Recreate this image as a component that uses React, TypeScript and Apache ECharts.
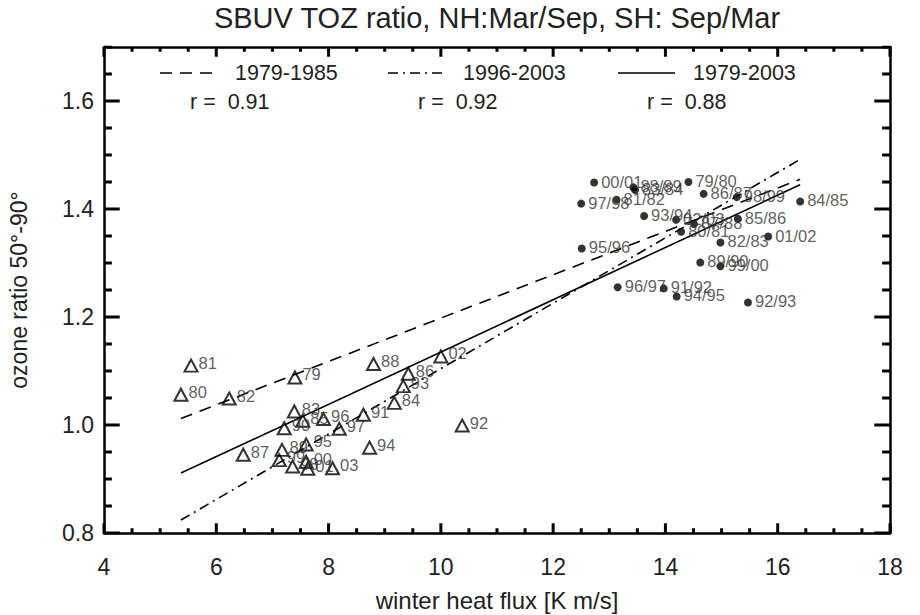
import React, { useEffect, useRef } from "react";
import * as echarts from "echarts";

// ---- data ----
const nhLabels = ["00/01","88/89","83/84","79/80","97/98","81/82","86/87","93/94","02/03","87/88","80/81","95/96","82/83","89/90","99/00","96/97","91/92","94/95","92/93","98/99","85/86","01/02","84/85"];
const nhX = [12.73,13.43,13.46,14.41,12.50,13.13,14.68,13.62,14.19,14.51,14.28,12.51,14.98,14.62,14.98,13.15,13.97,14.20,15.47,15.27,15.29,15.83,16.40];
const nhY = [1.449,1.440,1.435,1.450,1.410,1.417,1.428,1.387,1.380,1.372,1.358,1.327,1.338,1.301,1.294,1.255,1.253,1.238,1.227,1.422,1.382,1.349,1.414];

const shLabels = ["79","80","81","82","83","84","85","86","87","88","89","90","91","92","93","94","95","96","97","98","99","00","01","02","03"];
const shX = [7.40,5.37,5.55,6.23,7.39,9.17,7.54,9.42,6.48,8.80,7.17,7.21,8.62,10.38,9.33,8.73,7.60,7.91,8.19,7.36,7.12,7.60,7.63,10.00,8.07];
const shY = [1.088,1.056,1.110,1.049,1.025,1.041,1.008,1.095,0.945,1.113,0.954,0.994,1.019,0.999,1.072,0.958,0.964,1.011,0.993,0.923,0.935,0.932,0.919,1.127,0.920];

const fit7985 = [[5.37, 1.012], [16.40, 1.455]];
const fit9603 = [[5.37, 0.824], [16.40, 1.492]];
const fit7903 = [[5.37, 0.911], [16.40, 1.445]];

const legendNames = ["1979-1985", "1996-2003", "1979-2003"];
const legendR = ["r =  0.91", "r =  0.92", "r =  0.88"];

// axis extents and ticks
const X_MIN = 4, X_MAX = 18, X_STEP = 2, X_MINOR = 0.5;
const Y_MIN = 0.8, Y_MAX = 1.7, Y_STEP = 0.2, Y_MINOR = 0.05;
const TICKLEN = 0.02; // fraction of the plot, as in IDL

const titleText = "SBUV TOZ ratio, NH:Mar/Sep, SH: Sep/Mar";
const xTitle = "winter heat flux [K m/s]";
const yTitle = "ozone ratio 50°-90°";

const FONT = '"Liberation Sans", Arial, Helvetica, sans-serif';
const TXT = "#222";

function tickValues(min: number, max: number, step: number, major: number) {
  const out: { v: number; major: boolean }[] = [];
  const n = Math.round((max - min) / step);
  for (let i = 0; i <= n; i++) {
    const v = +(min + i * step).toFixed(4);
    out.push({ v, major: Math.abs(v / major - Math.round(v / major)) < 1e-6 });
  }
  return out;
}

export default function App() {
  const ref = useRef<HTMLDivElement>(null);
  useEffect(() => {
    if (!ref.current) return;
    const chart = echarts.init(ref.current, undefined, { renderer: "svg" });

    const frameLine = { show: true, onZero: false, lineStyle: { color: "#000", width: 2.5 } };
    const xAx = (pos: string, show: boolean) => ({
      type: "value",
      position: pos,
      min: X_MIN,
      max: X_MAX,
      interval: X_STEP,
      axisLine: frameLine,
      axisTick: { show: false },
      splitLine: { show: false },
      axisLabel: { show, fontSize: 23, color: TXT, fontFamily: FONT, margin: 22 },
    });
    const yAx = (pos: string, show: boolean) => ({
      type: "value",
      position: pos,
      min: Y_MIN,
      max: Y_MAX,
      interval: Y_STEP,
      axisLine: frameLine,
      axisTick: { show: false },
      splitLine: { show: false },
      axisLabel: {
        show,
        fontSize: 23,
        color: TXT,
        fontFamily: FONT,
        margin: 10,
        showMaxLabel: false,
        formatter: (v: number) => (Math.abs(v - Y_MAX) < 1e-6 ? "" : v.toFixed(1)),
      },
    });

    const lineSeries = (data: any[], type: any, width = 1.6) => ({
      type: "line",
      data,
      xAxisIndex: 0,
      yAxisIndex: 0,
      symbol: "none",
      silent: true,
      lineStyle: { color: "#000", width, type },
      z: 2,
    });

    const labelCfg = {
      show: true,
      position: "right",
      formatter: "{b}",
      fontSize: 16.5,
      color: "#333",
      fontFamily: FONT,
    };

    const legendCols = [
      { x1: 160, x2: 215, tx: 235, rx: 190, dash: [12, 8] },
      { x1: 388, x2: 443, tx: 463, rx: 418, dash: [10, 5, 2, 5] },
      { x1: 618, x2: 675, tx: 693, rx: 647, dash: null },
    ];
    const graphics: any[] = [
      {
        type: "text",
        x: 497,
        y: 18,
        style: { text: titleText, fontSize: 29, fontFamily: FONT, fill: TXT, align: "center", verticalAlign: "middle" },
      },
      {
        type: "text",
        x: 497,
        y: 600,
        style: { text: xTitle, fontSize: 24, fontFamily: FONT, fill: TXT, align: "center", verticalAlign: "middle" },
      },
      {
        type: "text",
        x: 19,
        y: 290,
        rotation: Math.PI / 2,
        style: { text: yTitle, fontSize: 23, fontFamily: FONT, fill: TXT, align: "center", verticalAlign: "middle" },
      },
    ];
    legendCols.forEach((c, i) => {
      graphics.push({
        type: "line",
        shape: { x1: c.x1, y1: 73, x2: c.x2, y2: 73 },
        style: { stroke: "#000", lineWidth: 1.6, lineDash: c.dash },
      });
      graphics.push({
        type: "text",
        x: c.tx,
        y: 73,
        style: { text: legendNames[i], fontSize: 21.5, fontFamily: FONT, fill: TXT, verticalAlign: "middle" },
      });
      graphics.push({
        type: "text",
        x: c.rx,
        y: 102,
        style: { text: legendR[i], fontSize: 21.5, fontFamily: FONT, fill: TXT, verticalAlign: "middle" },
      });
    });

    // each tick as its own small two-point line series (drawn through the axes' scales)
    const tickSeries: any[] = [];
    const dy = TICKLEN * (Y_MAX - Y_MIN);
    const dx = TICKLEN * (X_MAX - X_MIN);
    tickValues(X_MIN, X_MAX, X_MINOR, X_STEP).forEach((t) => {
      const l = t.major ? dy : dy / 2;
      tickSeries.push(lineSeries([[t.v, Y_MIN], [t.v, Y_MIN + l]], "solid", 3));
      tickSeries.push(lineSeries([[t.v, Y_MAX], [t.v, Y_MAX - l]], "solid", 3));
    });
    tickValues(Y_MIN, Y_MAX, Y_MINOR, Y_STEP).forEach((t) => {
      const l = t.major ? dx : dx / 2;
      tickSeries.push(lineSeries([[X_MIN, t.v], [X_MIN + l, t.v]], "solid", 3));
      tickSeries.push(lineSeries([[X_MAX, t.v], [X_MAX - l, t.v]], "solid", 3));
    });

    chart.setOption({
      animation: false,
      backgroundColor: "#fff",
      grid: { left: 104, right: 30, top: 47, bottom: 82, containLabel: false, outerBoundsMode: "none" },
      xAxis: [xAx("bottom", true), xAx("top", false)],
      yAxis: [yAx("left", true), yAx("right", false)],
      graphic: graphics,
      series: [
        ...tickSeries,
        lineSeries(fit7985, [12, 8]),
        lineSeries(fit9603, [10, 5, 2, 5]),
        lineSeries(fit7903, "solid"),
        {
          type: "scatter",
          xAxisIndex: 0,
          yAxisIndex: 0,
          symbol: "circle",
          symbolSize: 8,
          itemStyle: { color: "#000" },
          label: { ...labelCfg, distance: 3, offset: [0, -1] },
          data: nhLabels.map((n, i) => ({ name: n, value: [nhX[i], nhY[i]] })),
          z: 3,
        },
        {
          type: "scatter",
          xAxisIndex: 0,
          yAxisIndex: 0,
          symbol: "triangle",
          symbolSize: [13, 12],
          itemStyle: { color: "rgba(0,0,0,0)", borderColor: "#000", borderWidth: 2 },
          label: { ...labelCfg, distance: 0, offset: [0, -3] },
          data: shLabels.map((n, i) => ({ name: n, value: [shX[i], shY[i]] })),
          z: 3,
        },
      ],
    });
    return () => chart.dispose();
  }, []);
  return (
    <div
      ref={ref}
      style={{ position: "fixed", left: 0, top: 0, width: 920, height: 615, background: "#fff" }}
    />
  );
}
